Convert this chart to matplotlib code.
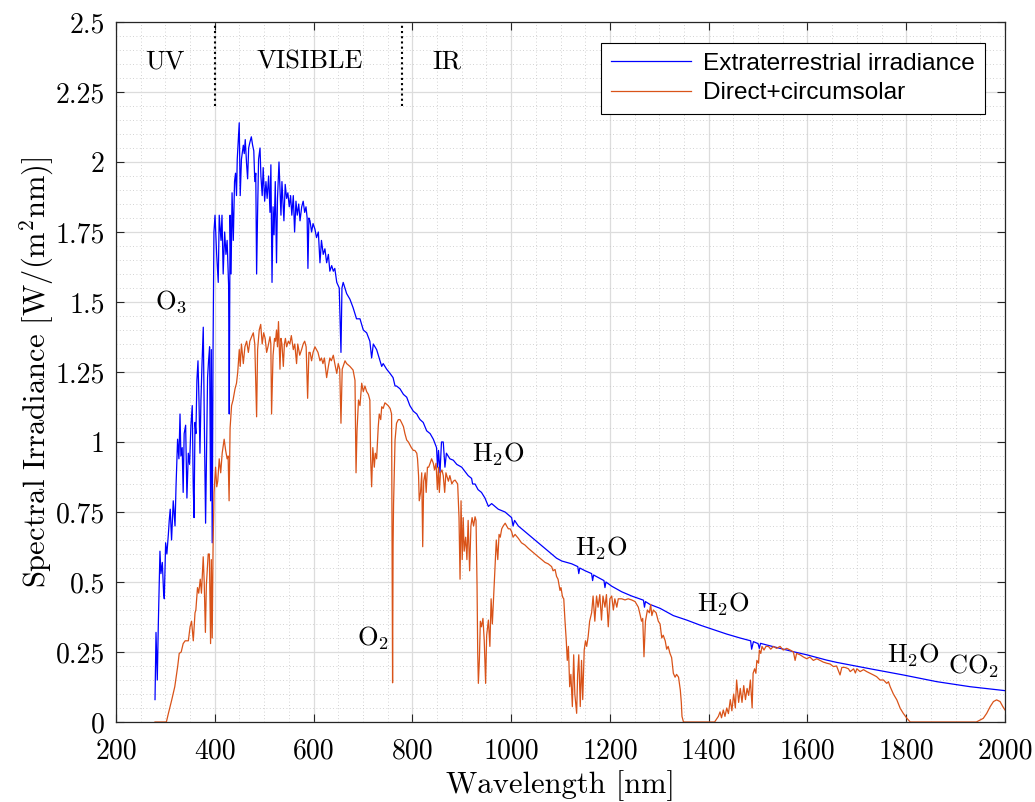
import matplotlib
matplotlib.use("Agg")
import matplotlib.pyplot as plt
from matplotlib.ticker import MultipleLocator

# extraterrestrial spectrum
ext_nm = [279, 281, 283.6, 285.7, 289, 291, 293.8, 296.4, 297.8, 300.5, 303, 306, 307.8, 309.8, 312.5,
          315.9, 319.5, 321.5, 324.7, 327.4, 329.6, 331.4, 334, 336, 338, 341, 343.6, 346.4, 349, 351.7,
          354.4, 356.4, 358, 360, 361.8, 363.8, 366, 368, 370, 372, 374, 376.7, 378.7, 381.4, 383.4,
          385.4, 387.4, 389.5, 391.5, 393, 394.8, 396.5, 398.3,
          400.5, 403.8, 407, 409, 412.6, 414.6, 417, 420, 422.6, 425, 428, 429.3, 431, 433, 435, 437.5,
          440, 442, 444, 445.5, 449.5, 451.5, 454, 457.8, 459.7, 461.7, 464.5, 466.5, 468.6, 471, 474,
          476.6, 479, 481, 483, 484.7, 486.7, 488.7, 491.6, 493.4, 496, 498, 501, 503.6, 506, 509,
          511.8, 513.6, 515.9, 518, 520, 522.5, 525, 527, 530, 532, 534, 536, 538, 540, 542.6, 545.5,
          548, 550.8, 553.5, 556, 559, 561.6, 564.4, 567, 570, 572.6, 576, 579, 582, 584.7, 587, 588.6,
          590.6, 592.8, 596, 599, 602.8, 606, 609.7, 613, 616, 619.6, 623, 626.5, 630, 633, 636.7, 640,
          643, 647, 652, 655.5, 657.5, 660, 667, 673.6, 680, 687, 694, 700.7, 707.5, 714, 717.6, 721,
          727.7, 734.6, 738, 741, 748, 754.8, 761, 765, 768, 775, 782, 788.6, 795, 802, 809, 812, 815.6,
          822, 829, 836, 842.5, 849, 851, 853, 856, 859, 862.6, 866, 869, 876, 883, 890,
          900, 913, 920, 922, 927, 933, 940, 947, 954, 960.6, 974, 987.7, 1001, 1004, 1007, 1014.6,
          1028, 1041.6, 1055, 1068.6, 1082, 1092, 1102.5, 1122.6, 1135, 1137, 1139, 1150, 1163, 1165,
          1167, 1183, 1188, 1190, 1192, 1203.7, 1224, 1244, 1268, 1270, 1272, 1281, 1301.6, 1328.5,
          1355.6, 1382.6, 1409.6, 1436.6, 1463.6, 1485, 1487, 1490.6, 1500, 1502.6, 1505, 1517.6,
          1544.6, 1571.6, 1598.6, 1639, 1659, 1727, 1794, 1862, 1929.6, 2000]
ext_val = [0.08, 0.32, 0.15, 0.35, 0.61, 0.53, 0.57, 0.46, 0.44, 0.64, 0.60, 0.67, 0.72, 0.76, 0.65,
           0.79, 0.70, 0.84, 1.01, 0.94, 1.10, 0.95, 0.98, 0.82, 1.03, 1.06, 0.80, 0.96, 0.92, 1.06,
           1.13, 0.84, 0.73, 1.07, 1.03, 1.22, 1.29, 1.15, 0.96, 1.15, 1.27, 1.41, 1.09, 0.71, 0.96,
           1.23, 1.29, 1.34, 0.79, 1.33, 0.64, 1.33, 1.75,
           1.81, 1.67, 1.57, 1.81, 1.72, 1.81, 1.60, 1.75, 1.67, 1.72, 1.56, 1.10, 1.81, 1.60, 1.89, 1.72,
           1.93, 1.96, 1.88, 2.01, 2.14, 1.88, 2.01, 2.06, 2.03, 2.08, 1.99, 1.94, 2.05, 2.07, 2.09,
           2.06, 2.04, 1.93, 1.96, 1.60, 1.82, 2.01, 2.05, 1.95, 1.88, 1.98, 1.86, 1.93, 1.87, 1.95,
           1.82, 1.99, 1.57, 1.84, 1.74, 1.93, 1.64, 1.87, 2.00, 1.91, 1.81, 1.93, 1.86, 1.79, 1.92, 1.87,
           1.89, 1.84, 1.88, 1.81, 1.88, 1.75, 1.86, 1.81, 1.85, 1.79, 1.84, 1.86, 1.82, 1.84, 1.80, 1.62,
           1.80, 1.79, 1.75, 1.78, 1.76, 1.73, 1.75, 1.64, 1.72, 1.67, 1.69, 1.64, 1.67, 1.61, 1.63, 1.61,
           1.62, 1.57, 1.55, 1.32, 1.55, 1.57, 1.53, 1.51, 1.48, 1.44, 1.44, 1.40, 1.39, 1.36, 1.30, 1.35,
           1.33, 1.29, 1.27, 1.28, 1.26, 1.245, 1.23, 1.20, 1.20, 1.19, 1.17, 1.16, 1.13, 1.11, 1.10, 1.09, 1.08,
           1.07, 1.04, 1.03, 1.01, 0.98, 0.91, 0.97, 0.89, 1.00, 1.00, 0.91, 0.96, 0.94, 0.935, 0.92,
           0.91, 0.88, 0.87, 0.85, 0.85, 0.83, 0.82, 0.80, 0.77, 0.78, 0.76, 0.75, 0.73, 0.70, 0.72, 0.70,
           0.68, 0.66, 0.64, 0.62, 0.60, 0.585, 0.575, 0.565, 0.555, 0.53, 0.55, 0.54, 0.53, 0.505,
           0.525, 0.51, 0.505, 0.48, 0.50, 0.485, 0.465, 0.45, 0.435, 0.41, 0.43, 0.42, 0.406, 0.38,
           0.364, 0.346, 0.33, 0.314, 0.30, 0.29, 0.26, 0.287, 0.28, 0.263, 0.281, 0.275,
           0.263, 0.251, 0.240, 0.221, 0.213, 0.19, 0.168, 0.144, 0.126, 0.112]

# direct + circumsolar spectrum
dir_nm = [279, 302, 306, 313, 319, 325, 328, 332, 336, 340, 343, 346.5, 350, 353, 356.5, 360, 361.7,
          365, 367.5, 370.6, 373, 376.6, 378.6, 381, 383, 386.7, 389, 391.5, 393, 394.8, 396.5, 398.5,
          401.6, 404, 406, 409, 412, 415, 419, 422, 425, 427, 429, 431, 434, 437, 441, 444, 446.5, 449.6,
          451.5, 454, 457.8, 461, 464.5, 468, 471, 474.6, 478, 481, 484.7, 486.7, 490, 493, 496, 499,
          502, 505, 507.7, 511.8, 513.5, 515, 518, 521, 523, 525, 527, 529, 532, 534, 536, 538.8, 541,
          543, 545.5, 549, 552, 555, 559, 562, 565.6, 568, 572, 575.8, 579, 582, 585, 588, 590.6, 593,
          596, 599, 602.8, 606, 609, 613, 616, 619, 622, 626.5, 630, 633, 636, 640, 643, 647, 650, 653,
          655.5, 658, 663.7, 667, 673.6, 680, 683.9, 686, 688, 691, 694, 697.5, 700.7, 704, 707.5, 711,
          714, 715.6, 717.6, 720, 723, 725, 727.7, 731, 733, 736, 738, 741, 744.5, 751, 755, 758, 759,
          760, 761, 762, 765, 768, 771.6, 775, 778, 782, 785, 788.6, 792, 795, 798, 802, 805, 809, 810.5,
          812.6, 814, 816.6, 819, 821, 823, 826, 828, 830.6, 833, 836, 839, 842.5, 845, 848, 850.7, 853,
          854.7, 857, 860, 862.6, 865.5, 868, 873, 876, 880, 883, 886.5, 891.8, 894.5, 896.6, 898.6, 901,
          903, 905, 908, 910.5, 913, 916, 918.6, 921, 924, 927, 929, 931, 932.4, 933.7, 935.7, 937.7,
          940, 943, 945.6, 948.4, 950.5, 954, 957, 959.5, 962, 965, 967.5, 970, 973, 975.6, 978, 981,
          984, 988, 991, 994.4, 998, 1001, 1004, 1008, 1014.6, 1021, 1028, 1035, 1041.6, 1048, 1055,
          1062, 1068.6, 1075, 1082, 1085, 1089, 1092, 1095, 1099, 1101, 1104, 1106.6, 1109, 1111.7,
          1113.7, 1116, 1118.6, 1121, 1124, 1126.7, 1129, 1132.7, 1134.7, 1137, 1140, 1142.6, 1145, 1148,
          1150.6, 1153, 1156, 1159, 1163, 1166, 1169.5, 1173, 1176, 1179.6, 1183, 1186, 1190, 1193,
          1196.7, 1200, 1203.7, 1207, 1210, 1214, 1217, 1224, 1230.6, 1237, 1244, 1251, 1257.6, 1261.6,
          1264, 1266.5, 1269, 1272, 1276, 1280, 1282.6, 1285, 1288, 1293.6, 1298, 1301.6, 1305, 1308,
          1312, 1315, 1318, 1321.7, 1325, 1328.5, 1332, 1335, 1339, 1342.6, 1344.6, 1346, 1349, 1412,
          1419.6, 1423, 1426, 1429.6, 1433, 1436.6, 1440, 1443.8, 1447, 1450.6, 1454, 1456.6, 1460.7,
          1464, 1467.5, 1471, 1474.5, 1477.8, 1481, 1484.5, 1488, 1490, 1493, 1495.6, 1497.6, 1501,
          1502.6, 1505.5, 1508, 1512, 1516, 1521, 1525.7, 1531, 1537.5, 1544.6, 1551, 1558, 1565,
          1571.6, 1575, 1578, 1585, 1592, 1598.6, 1605, 1612, 1619, 1625.6, 1632, 1639, 1646, 1652.6,
          1659, 1666, 1669.6, 1676, 1683, 1686.6, 1693.5, 1697, 1700, 1706.6, 1713.5, 1720, 1727,
          1733.6, 1740, 1747, 1754, 1760.6, 1764, 1767.5, 1774, 1781, 1787.8, 1794, 1801.5, 1808, 1942,
          1949.6, 1956, 1963, 1970, 1976.6, 1983, 1990, 1995.6, 2000]
dir_val = [0, 0, 0.03, 0.08, 0.126, 0.20, 0.245, 0.25, 0.28, 0.29, 0.29, 0.29, 0.34, 0.36, 0.29, 0.39, 0.40,
           0.48, 0.46, 0.51, 0.46, 0.59, 0.50, 0.32, 0.49, 0.60, 0.60, 0.28, 0.58, 0.30, 0.62, 0.82,
           0.91, 0.84, 0.86, 0.94, 0.89, 0.96, 1.01, 0.97, 0.94, 0.95, 0.79, 1.05, 1.13, 1.15, 1.19, 1.21, 1.25, 1.33,
           1.27, 1.35, 1.28, 1.34, 1.36, 1.32, 1.36, 1.376, 1.39, 1.35, 1.09, 1.33, 1.40, 1.42, 1.35, 1.39,
           1.37, 1.32, 1.34, 1.376, 1.35, 1.10, 1.31, 1.37, 1.36, 1.40, 1.34, 1.43, 1.26, 1.37, 1.35, 1.27, 1.35,
           1.37, 1.34, 1.36, 1.35, 1.38, 1.33, 1.35, 1.28, 1.35, 1.31, 1.33, 1.35, 1.36, 1.34, 1.156, 1.32, 1.32,
           1.29, 1.32, 1.34, 1.33, 1.32, 1.29, 1.30, 1.28, 1.30, 1.23, 1.27, 1.30, 1.29, 1.31, 1.28, 1.245, 1.28, 1.26,
           1.067, 1.26, 1.29, 1.28, 1.27, 1.257, 1.22, 0.89, 1.04, 1.15, 1.13, 1.21, 1.18, 1.20, 1.18, 1.17,
           1.15, 0.94, 0.84, 0.98, 0.91, 0.96, 0.94, 1.055, 1.10, 1.08, 1.126, 1.12, 1.14, 1.13, 1.12, 1.10, 0.626,
           0.14, 0.63, 0.78, 1.007, 1.067, 1.08, 1.08, 1.07, 1.055, 1.03, 1.007, 1.00, 0.99, 0.98, 0.97, 0.97, 0.96, 0.94,
           0.88, 0.79, 0.82, 0.89, 0.626, 0.86, 0.89, 0.82, 0.91, 0.91, 0.924, 0.94, 0.924, 0.90, 0.924, 0.83, 0.91,
           0.82, 0.89, 0.90, 0.88, 0.82, 0.89, 0.86, 0.88, 0.85, 0.86, 0.864, 0.85, 0.73, 0.51, 0.79, 0.58,
           0.73, 0.61, 0.66, 0.58, 0.72, 0.54, 0.70, 0.73, 0.70, 0.733, 0.72, 0.49, 0.245, 0.138, 0.22, 0.36,
           0.34, 0.37, 0.29, 0.138, 0.31, 0.364, 0.27, 0.44, 0.35, 0.46, 0.555, 0.65, 0.58, 0.67, 0.66, 0.69,
           0.70, 0.71, 0.70, 0.69, 0.69, 0.68, 0.66, 0.67, 0.656, 0.64, 0.632, 0.62, 0.61, 0.60, 0.59,
           0.58, 0.57, 0.565, 0.555, 0.54, 0.545, 0.52, 0.51, 0.47, 0.48, 0.447, 0.44, 0.364, 0.29,
           0.22, 0.27, 0.126, 0.17, 0.055, 0.24, 0.10, 0.031, 0.17, 0.24, 0.055, 0.22, 0.08, 0.257,
           0.29, 0.27, 0.305, 0.36, 0.39, 0.45, 0.36, 0.45, 0.41, 0.455, 0.364, 0.45, 0.41, 0.455,
           0.34, 0.44, 0.45, 0.40, 0.44, 0.41, 0.44, 0.44, 0.436, 0.44, 0.436, 0.43, 0.41, 0.38,
           0.36, 0.37, 0.233, 0.36, 0.40, 0.39, 0.42, 0.38, 0.40, 0.39, 0.36, 0.35, 0.30, 0.31,
           0.29, 0.26, 0.27, 0.245, 0.23, 0.174, 0.16, 0.17, 0.16, 0.114, 0.07, 0.02, 0, 0,
           0.02, 0.036, 0.015, 0.043, 0.02, 0.05, 0.03, 0.08, 0.04, 0.10, 0.05, 0.15, 0.07,
           0.12, 0.07, 0.13, 0.08, 0.12, 0.095, 0.15, 0.05, 0.174, 0.19, 0.174, 0.22, 0.21,
           0.257, 0.245, 0.27, 0.257, 0.27, 0.27, 0.26, 0.27, 0.263, 0.27, 0.257, 0.263, 0.257,
           0.25, 0.22, 0.245, 0.24, 0.232, 0.226, 0.232, 0.22, 0.226, 0.22, 0.214, 0.21, 0.207, 0.198,
           0.20, 0.168, 0.195, 0.195, 0.19, 0.18, 0.19, 0.175, 0.19, 0.18, 0.187, 0.18, 0.174,
           0.168, 0.162, 0.15, 0.15, 0.138, 0.144, 0.126, 0.10, 0.079, 0.049, 0.031, 0.013, 0, 0,
           0.007, 0.013, 0.031, 0.055, 0.073, 0.079, 0.073, 0.055, 0.043]

xticks = [200, 400, 600, 800, 1000, 1200, 1400, 1600, 1800, 2000]
yticks = [0, 0.25, 0.5, 0.75, 1, 1.25, 1.5, 1.75, 2, 2.25, 2.5]
ytick_labels = ["0", "0.25", "0.5", "0.75", "1", "1.25", "1.5", "1.75", "2", "2.25", "2.5"]

region_edges = [400, 780]
regions = [("UV", 300), ("VISIBLE", 593), ("IR", 870)]
absorbers = [(r"O$_3$", 279, 1.50), (r"O$_2$", 688, 0.30), (r"H$_2$O", 921, 0.955),
             (r"H$_2$O", 1129, 0.62), (r"H$_2$O", 1376, 0.42), (r"H$_2$O", 1761, 0.24),
             (r"CO$_2$", 1885, 0.20)]

plt.rcParams["font.family"] = "cmr10"
plt.rcParams["mathtext.fontset"] = "cm"
plt.rcParams["axes.formatter.use_mathtext"] = True

fig = plt.figure(figsize=(10.35, 8.02), dpi=100)
ax = fig.add_axes([116 / 1035, 80 / 802, 889 / 1035, 700 / 802])

ax.plot(ext_nm, ext_val, color=(0, 0, 1), lw=0.9, label="Extraterrestrial irradiance")
ax.plot(dir_nm, dir_val, color="#D95319", lw=0.9, label="Direct+circumsolar")

ax.set_xlim(200, 2000)
ax.set_ylim(0, 2.5)
ax.set_xticks(xticks)
ax.set_xticklabels([str(t) for t in xticks])
ax.set_yticks(yticks)
ax.set_yticklabels(ytick_labels)
ax.xaxis.set_minor_locator(MultipleLocator(50))
ax.yaxis.set_minor_locator(MultipleLocator(0.05))
ax.tick_params(which="major", direction="in", length=6, width=0.8, top=True, right=True,
               labelsize=20, color="#262626", pad=8)
ax.tick_params(axis="x", which="major", pad=12)
ax.tick_params(which="minor", length=0)
ax.grid(which="major", color="#dcdcdc", lw=0.9, ls="-")
ax.grid(which="minor", color="#c4c4c4", lw=0.6, ls=(0, (1, 3)))
ax.set_axisbelow(True)
for s in ax.spines.values():
    s.set_color("#262626")
    s.set_linewidth(0.9)

ax.set_xlabel("Wavelength [nm]", fontsize=22, labelpad=4)
ax.set_ylabel(r"Spectral Irradiance [W/(m$^2$nm)]", fontsize=22, labelpad=0)

ax.vlines(region_edges, 2.2, 2.5, colors="k", linestyles=(0, (1, 1.5)), lw=1.5)
for name, x in regions:
    ax.text(x, 2.36, name, fontsize=19, ha="center", va="center")
for name, x, y in absorbers:
    ax.text(x, y, name, fontsize=19, ha="left", va="center")

leg = ax.legend(loc="upper right", bbox_to_anchor=(1 - 20 / 889, 1 - 21 / 700), borderaxespad=0,
                prop={"family": "Liberation Sans", "size": 17.6}, fancybox=False, edgecolor="k",
                framealpha=1, handlelength=3.3, labelspacing=0.3, borderpad=0.4, handletextpad=0.5)
leg.get_frame().set_linewidth(0.8)

fig.savefig("out.png", dpi=100)
